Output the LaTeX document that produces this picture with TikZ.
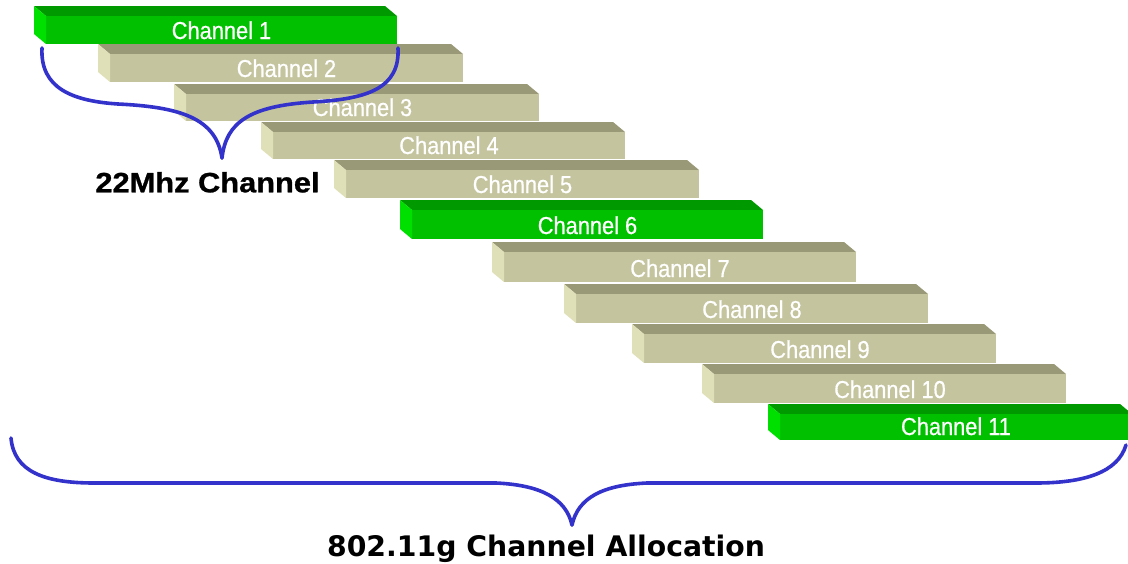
\documentclass[tikz,border=0pt]{standalone}
\usepackage{fontspec}
\setmainfont{Liberation Sans}
\newfontfamily\chfont[FakeStretch=0.89]{Liberation Sans}
\newfontfamily\headfont[FakeStretch=1.1]{Liberation Sans}
\newfontfamily\dvfont{DejaVu Sans}
\definecolor{gfront}{HTML}{00C000}
\definecolor{gtop}{HTML}{009900}
\definecolor{gside}{HTML}{00E000}
\definecolor{bfront}{HTML}{C4C49E}
\definecolor{btop}{HTML}{999977}
\definecolor{bside}{HTML}{E0E0B8}
\definecolor{braceblue}{HTML}{3333CC}
\tikzset{
  chlabel/.style={text=white, inner sep=0pt, font=\chfont\fontsize{24.5}{24.5}\selectfont},
  bracepath/.style={draw=braceblue, line width=3.6pt, line cap=round, line join=round},
}
% #1 name, #2 L, #3 T, #4 R, #5 B, #6 colour prefix (g/b), #7 label
\newcommand\chbar[7]{%
  \fill[#6top] (#2,#3) -- ({#4-12},#3) -- (#4,{#3+10}) -- ({#2+12},{#3+10}) -- cycle;
  \fill[#6front] ({#2+12},{#3+10}) rectangle (#4,#5);
  \fill[#6side] (#2,#3) -- ({#2+12},{#3+10}) -- ({#2+12},#5) -- (#2,{#5-10}) -- cycle;
  \node[chlabel, anchor=base] (#1) at ({(#2+12+#4)/2},{#5-5}) {\addfontfeatures{FakeBold=0.6}#7};
}
\begin{document}
\begin{tikzpicture}[x=1pt,y=-1pt]
\useasboundingbox (0,0) rectangle (1128,563);
\clip (0,0) rectangle (1128,563);
\chbar{c1}{34}{6}{397}{44}{g}{Channel 1}
\chbar{c2}{98}{44}{463}{82}{b}{Channel 2}
\chbar{c3}{174}{84}{539}{121}{b}{Channel 3}
\chbar{c4}{261}{122}{625}{159}{b}{Channel 4}
\chbar{c5}{334}{160}{699}{198}{b}{Channel 5}
\chbar{c6}{400}{200}{763}{239}{g}{Channel 6}
\chbar{c7}{492}{242}{856}{282}{b}{Channel 7}
\chbar{c8}{564}{284}{928}{323}{b}{Channel 8}
\chbar{c9}{632}{324}{996}{363}{b}{Channel 9}
\chbar{c10}{702}{364}{1066}{403}{b}{Channel 10}
\chbar{c11}{768}{404}{1132}{440}{g}{Channel 11}

% small brace (22 MHz)
\coordinate (smallL) at (42,48);
\coordinate (smallR) at (398,48);
\coordinate (smalltip) at (222,158);
\path[bracepath] (smallL) .. controls (40,88) and (72,101) .. (118,104)
  .. controls (180,107) and (216,118) .. (smalltip);
\path[bracepath] (smallR) .. controls (400,88) and (368,99) .. (313,102)
  .. controls (250,106) and (226,122) .. (smalltip);
\node[anchor=base, inner sep=0pt, font=\headfont\bfseries\fontsize{28}{28}\selectfont] (lbl22) at (207.5,192.3) {\addfontfeatures{FakeBold=1}22Mhz Channel};

% big brace (allocation)
\coordinate (bigL) at (11,438);
\coordinate (bigR) at (1126,445);
\coordinate (bigtip) at (572,525);
\path[bracepath] (bigL) .. controls (14,472) and (45,483) .. (94,483) -- (496,483)
  .. controls (540,485) and (566,498) .. (bigtip);
\path[bracepath] (bigR) .. controls (1118,472) and (1085,483) .. (1036,483) -- (647,483)
  .. controls (602,485) and (578,498) .. (bigtip);
\node[anchor=base, inner sep=0pt, font=\dvfont\bfseries\fontsize{28.3}{28.3}\selectfont] (lblall) at (546,556.7) {802.11g Channel Allocation};
\end{tikzpicture}
\end{document}
